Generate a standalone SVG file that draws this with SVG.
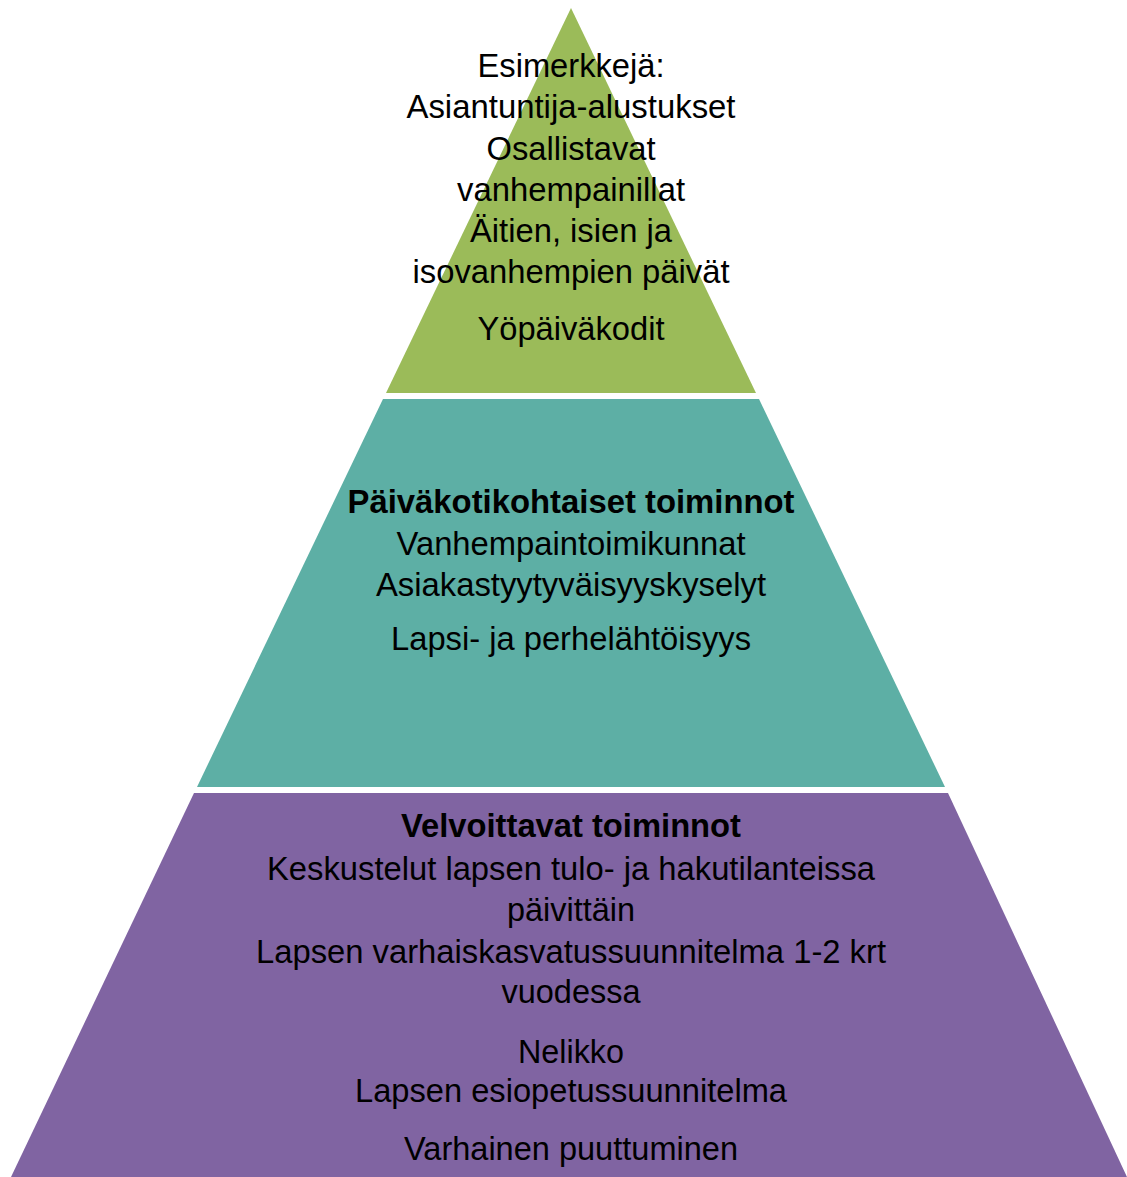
<svg xmlns="http://www.w3.org/2000/svg" width="1127" height="1177" viewBox="0 0 1127 1177">
<style>
.t{font-family:"Liberation Sans Narrow","Liberation Sans",Arial,sans-serif;font-size:34px;fill:#000;text-anchor:middle}
.b{font-weight:bold}
</style>
<rect width="1127" height="1177" fill="#fff"/>
<g id="level-top">
<polygon points="571,8 756,393 386,393" fill="#9BBB59"/>
<text class="t" x="571" y="77" textLength="187" lengthAdjust="spacingAndGlyphs">Esimerkkejä:</text>
<text class="t" x="571" y="118" textLength="329" lengthAdjust="spacingAndGlyphs">Asiantuntija-alustukset</text>
<text class="t" x="571" y="160" textLength="169" lengthAdjust="spacingAndGlyphs">Osallistavat</text>
<text class="t" x="571" y="201" textLength="228" lengthAdjust="spacingAndGlyphs">vanhempainillat</text>
<text class="t" x="571" y="242" textLength="202" lengthAdjust="spacingAndGlyphs">Äitien, isien ja</text>
<text class="t" x="571" y="283" textLength="317" lengthAdjust="spacingAndGlyphs">isovanhempien päivät</text>
<text class="t" x="571" y="340" textLength="187" lengthAdjust="spacingAndGlyphs">Yöpäiväkodit</text>
</g>
<g id="level-middle">
<polygon points="383,399 759,399 945,787 197,787" fill="#5DAFA5"/>
<text class="t b" x="571" y="513" textLength="447" lengthAdjust="spacingAndGlyphs">Päiväkotikohtaiset toiminnot</text>
<text class="t" x="571" y="555" textLength="349" lengthAdjust="spacingAndGlyphs">Vanhempaintoimikunnat</text>
<text class="t" x="571" y="596" textLength="390" lengthAdjust="spacingAndGlyphs">Asiakastyytyväisyyskyselyt</text>
<text class="t" x="571" y="650" textLength="360" lengthAdjust="spacingAndGlyphs">Lapsi- ja perhelähtöisyys</text>
</g>
<g id="level-bottom">
<polygon points="194,793 948,793 1127,1177 11,1177" fill="#8064A2"/>
<text class="t b" x="571" y="837" textLength="340" lengthAdjust="spacingAndGlyphs">Velvoittavat toiminnot</text>
<text class="t" x="571" y="880" textLength="608" lengthAdjust="spacingAndGlyphs">Keskustelut lapsen tulo- ja hakutilanteissa</text>
<text class="t" x="571" y="921" textLength="128" lengthAdjust="spacingAndGlyphs">päivittäin</text>
<text class="t" x="571" y="963" textLength="630" lengthAdjust="spacingAndGlyphs">Lapsen varhaiskasvatussuunnitelma 1-2 krt</text>
<text class="t" x="571" y="1003" textLength="139" lengthAdjust="spacingAndGlyphs">vuodessa</text>
<text class="t" x="571" y="1063" textLength="106" lengthAdjust="spacingAndGlyphs">Nelikko</text>
<text class="t" x="571" y="1102" textLength="432" lengthAdjust="spacingAndGlyphs">Lapsen esiopetussuunnitelma</text>
<text class="t" x="571" y="1160" textLength="334" lengthAdjust="spacingAndGlyphs">Varhainen puuttuminen</text>
</g>
<g id="connectors"/>
</svg>
